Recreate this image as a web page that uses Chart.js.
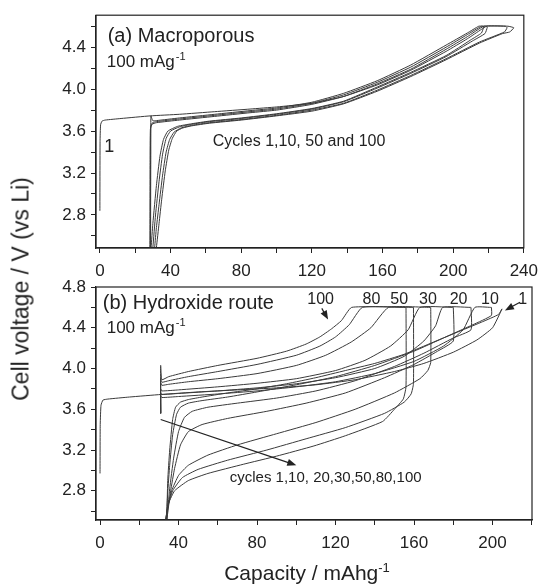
<!DOCTYPE html>
<html>
<head>
<meta charset="utf-8">
<script src="https://cdn.jsdelivr.net/npm/chart.js@4.4.0/dist/chart.umd.min.js"></script>
<style>
  body { margin: 0; background: #fff; }
  #wrap { position: relative; width: 546px; height: 586px; font-family: "Liberation Sans", Arial, sans-serif; color: #222; }
  canvas { position: absolute; left: 0; }
  #cA { top: 0; width: 546px; height: 282px; }
  #cB { top: 270px; width: 546px; height: 316px; }
  .ytitle { position: absolute; left: 21px; top: 289px; transform: translate(-50%, -50%) rotate(-90deg); white-space: nowrap; font-size: 23px; }
  .xtitle { position: absolute; left: 307px; top: 572px; transform: translate(-50%, -50%); white-space: nowrap; font-size: 21px; }
  sup { font-size: 13px; }
</style>
</head>
<body>
<div id="wrap">
  <canvas id="cA" width="546" height="282"></canvas>
  <canvas id="cB" width="546" height="316"></canvas>
  <div class="ytitle">Cell voltage / V (vs Li)</div>
  <div class="xtitle">Capacity / mAhg<sup>-1</sup></div>
</div>
<script>
const FONT = '"Liberation Sans", Arial, sans-serif';
const INK = "#222";
const LINE = "#3a3a3a";

// axis ticks
const aXTicks = [0, 20, 40, 60, 80, 100, 120, 140, 160, 180, 200, 220, 240];
const aXLabels = [0, 40, 80, 120, 160, 200, 240];
const aYTicks = [2.6, 2.8, 3.0, 3.2, 3.4, 3.6, 3.8, 4.0, 4.2, 4.4, 4.6];
const aYLabels = [2.8, 3.2, 3.6, 4.0, 4.4];
const bXTicks = [0, 20, 40, 60, 80, 100, 120, 140, 160, 180, 200, 220];
const bXLabels = [0, 40, 80, 120, 160, 200];
const bYTicks = [2.6, 2.8, 3.0, 3.2, 3.4, 3.6, 3.8, 4.0, 4.2, 4.4, 4.6, 4.8];
const bYLabels = [2.8, 3.2, 3.6, 4.0, 4.4, 4.8];

// (a) macroporous: charge, hold at 4.6 V, then discharge; capacity (mAh/g) and voltage (V)
const aCyc1X = [0, 0.1, 0.4, 1.2, 3, 12, 28.6, 45, 65, 85, 100, 120, 138, 157, 176, 196, 208, 216, 219, 231, 234.3,
  232, 228, 215, 196, 176, 157, 138, 120, 100, 80, 62, 52, 47, 43.5, 41, 39, 37, 35, 33.5, 32];
const aCyc1V = [2.84, 3.50, 3.66, 3.695, 3.705, 3.72, 3.745, 3.76, 3.785, 3.81, 3.83, 3.865, 3.93, 4.04, 4.18, 4.36, 4.48, 4.57, 4.6, 4.6, 4.585,
  4.545, 4.53, 4.44, 4.28, 4.12, 3.98, 3.86, 3.79, 3.745, 3.705, 3.675, 3.65, 3.63, 3.60, 3.53, 3.42, 3.22, 2.95, 2.72, 2.49];
const aCyc10X = [28.3, 28.4, 28.6, 29.5, 32, 45, 65, 85, 100, 120, 138, 157, 176, 196, 208, 217.5, 229.5, 230.5,
  229, 215, 196, 176, 157, 138, 120, 100, 80, 62, 52, 46, 42, 39.5, 37.5, 35.5, 33.5, 32, 31];
const aCyc10V = [2.49, 3.30, 3.62, 3.665, 3.68, 3.705, 3.74, 3.775, 3.80, 3.855, 3.93, 4.05, 4.19, 4.38, 4.50, 4.6, 4.6, 4.585,
  4.545, 4.45, 4.29, 4.13, 3.99, 3.865, 3.80, 3.75, 3.71, 3.68, 3.655, 3.63, 3.59, 3.52, 3.40, 3.18, 2.90, 2.68, 2.49];
const aCyc50X = [28.6, 28.7, 28.8, 29.8, 32, 45, 65, 85, 100, 120, 138, 157, 176, 196, 208, 216, 218.5, 219.3,
  218, 211, 196, 176, 157, 138, 120, 100, 80, 62, 52, 45, 40, 37.5, 35.5, 33.5, 31.5, 30];
const aCyc50V = [2.49, 3.35, 3.64, 3.68, 3.69, 3.715, 3.75, 3.785, 3.81, 3.865, 3.945, 4.065, 4.21, 4.40, 4.52, 4.6, 4.6, 4.59,
  4.53, 4.46, 4.31, 4.15, 4.01, 3.88, 3.81, 3.76, 3.72, 3.69, 3.665, 3.64, 3.60, 3.53, 3.38, 3.12, 2.80, 2.49];
const aCyc100X = [28.7, 28.8, 28.9, 29.9, 32, 45, 65, 85, 100, 120, 138, 157, 176, 196, 208, 214.5, 216.5, 217.2,
  216, 210, 196, 176, 157, 138, 120, 100, 80, 62, 52, 44, 38.5, 36, 34, 32, 30, 29];
const aCyc100V = [2.49, 3.40, 3.745, 3.70, 3.70, 3.725, 3.76, 3.795, 3.82, 3.875, 3.96, 4.08, 4.23, 4.42, 4.535, 4.6, 4.6, 4.59,
  4.535, 4.47, 4.32, 4.16, 4.02, 3.885, 3.815, 3.765, 3.725, 3.695, 3.67, 3.645, 3.60, 3.52, 3.36, 3.08, 2.72, 2.49];

// (b) hydroxide route
const bCyc1X = [0, 0.1, 0.5, 1.5, 4, 15, 31, 50, 70, 90, 110, 130, 150, 165, 180, 192, 200, 204.8,
  203, 195, 185, 170, 155, 140, 125, 110, 95, 80, 65, 52, 45, 41, 38.5, 37, 35.5, 34.5, 34];
const bCyc1V = [2.97, 3.45, 3.64, 3.69, 3.70, 3.72, 3.745, 3.77, 3.79, 3.81, 3.84, 3.89, 3.97, 4.05, 4.16, 4.28, 4.40, 4.585,
  4.53, 4.46, 4.38, 4.26, 4.14, 4.05, 3.98, 3.91, 3.85, 3.80, 3.76, 3.72, 3.695, 3.67, 3.62, 3.50, 3.20, 2.90, 2.51];
const bCyc10X = [30.9, 30.9, 31.5, 40, 60, 80, 100, 120, 140, 160, 175, 185, 191, 199, 199.4, 199.4,
  190, 175, 160, 140, 120, 100, 80, 65, 52, 45, 41, 39, 37, 35.5, 34.5, 33.8];
const bCyc10V = [3.56, 3.73, 3.715, 3.725, 3.75, 3.78, 3.82, 3.87, 3.95, 4.07, 4.22, 4.38, 4.6, 4.6, 4.6, 4.52,
  4.43, 4.30, 4.17, 4.03, 3.92, 3.84, 3.77, 3.72, 3.685, 3.66, 3.62, 3.55, 3.35, 3.05, 2.78, 2.51];
const bCyc20X = [30.9, 30.9, 31.5, 40, 60, 80, 100, 120, 140, 155, 165, 171, 174.6, 188.7, 189, 189,
  180, 165, 150, 130, 110, 90, 70, 55, 47, 43, 40, 37.5, 35.5, 34];
const bCyc20V = [3.56, 3.76, 3.745, 3.755, 3.78, 3.81, 3.85, 3.91, 4.00, 4.12, 4.27, 4.42, 4.6, 4.6, 4.6, 4.38,
  4.30, 4.15, 4.02, 3.88, 3.78, 3.71, 3.66, 3.62, 3.58, 3.52, 3.38, 3.12, 2.82, 2.51];
const bCyc30X = [30.9, 30.9, 31.5, 40, 60, 80, 100, 120, 135, 148, 157, 163, 179.7, 180, 180,
  172, 160, 145, 125, 105, 85, 65, 52, 45, 41, 38, 36, 34];
const bCyc30V = [3.56, 3.80, 3.78, 3.79, 3.82, 3.855, 3.90, 3.98, 4.08, 4.22, 4.38, 4.6, 4.6, 4.6, 4.27,
  4.17, 4.04, 3.91, 3.76, 3.66, 3.58, 3.51, 3.45, 3.38, 3.25, 3.02, 2.80, 2.51];
const bCyc50X = [30.9, 30.9, 31.5, 35, 45, 60, 80, 100, 115, 128, 138, 147, 168.2, 168.5, 168.5,
  167, 163, 150, 130, 110, 90, 70, 55, 45, 40, 36.5, 34.5, 33.5];
const bCyc50V = [3.56, 3.86, 3.835, 3.845, 3.87, 3.90, 3.95, 4.03, 4.13, 4.26, 4.40, 4.6, 4.6, 4.6, 4.06,
  3.98, 3.90, 3.76, 3.60, 3.47, 3.36, 3.25, 3.15, 3.05, 2.95, 2.80, 2.65, 2.51];
const bCyc80X = [30.9, 30.9, 31.5, 35, 45, 60, 80, 100, 112, 120, 127, 133.7, 159.4, 159.7, 159.7,
  158.5, 155, 145, 125, 105, 85, 65, 50, 42, 37, 34.5, 33.5];
const bCyc80V = [3.56, 3.90, 3.865, 3.88, 3.92, 3.97, 4.04, 4.13, 4.22, 4.31, 4.43, 4.6, 4.6, 4.6, 3.85,
  3.75, 3.67, 3.56, 3.42, 3.31, 3.20, 3.10, 3.01, 2.93, 2.80, 2.64, 2.51];
const bCyc100X = [30.9, 30.9, 31.5, 35, 45, 60, 80, 95, 105, 112, 118, 123, 128.2, 155.6, 155.9, 155.9,
  154.5, 150, 144, 125, 109, 90, 73, 55, 45, 38, 35, 33.3];
const bCyc100V = [3.56, 4.03, 3.89, 3.92, 3.97, 4.03, 4.10, 4.17, 4.24, 4.31, 4.39, 4.47, 4.6, 4.6, 4.6, 3.82,
  3.70, 3.60, 3.48, 3.34, 3.24, 3.14, 3.06, 2.97, 2.90, 2.80, 2.68, 2.51];

const aCurves = [[aCyc1X, aCyc1V], [aCyc10X, aCyc10V], [aCyc50X, aCyc50V], [aCyc100X, aCyc100V]];
const bCurves = [[bCyc1X, bCyc1V], [bCyc10X, bCyc10V], [bCyc20X, bCyc20V], [bCyc30X, bCyc30V],
  [bCyc50X, bCyc50V], [bCyc80X, bCyc80V], [bCyc100X, bCyc100V]];

function toDatasets(curves) {
  return curves.map(([xs, vs]) => ({
    data: xs.map((x, i) => ({ x: x, y: vs[i] })),
    showLine: true,
    pointRadius: 0,
    borderWidth: 1,
    borderColor: LINE,
    tension: 0.15,
  }));
}

// frame round the plot area
const boxPlugin = {
  id: "box",
  afterDraw(chart) {
    const { ctx, chartArea: a } = chart;
    ctx.save();
    ctx.strokeStyle = INK;
    ctx.lineWidth = 1.2;
    ctx.strokeRect(a.left, a.top, a.right - a.left, a.bottom - a.top);
    ctx.restore();
  },
};

// text and arrows placed in data units
const notesPlugin = {
  id: "notes",
  afterDatasetsDraw(chart, args, opts) {
    const ctx = chart.ctx, sx = chart.scales.x, sy = chart.scales.y;
    ctx.save();
    ctx.fillStyle = INK;
    ctx.strokeStyle = INK;
    (opts.texts || []).forEach((t) => {
      const px = sx.getPixelForValue(t.x), py = sy.getPixelForValue(t.y);
      ctx.font = t.size + "px " + FONT;
      ctx.textAlign = t.align || "left";
      ctx.textBaseline = "alphabetic";
      ctx.fillText(t.text, px, py);
      if (t.sup) {
        const w = ctx.measureText(t.text).width;
        ctx.textAlign = "left";
        ctx.font = Math.round(t.size * 0.65) + "px " + FONT;
        ctx.fillText(t.sup, px + w + 1, py - t.size * 0.42);
      }
    });
    (opts.arrows || []).forEach((a) => {
      const x1 = sx.getPixelForValue(a.from[0]), y1 = sy.getPixelForValue(a.from[1]);
      const x2 = sx.getPixelForValue(a.to[0]), y2 = sy.getPixelForValue(a.to[1]);
      const ang = Math.atan2(y2 - y1, x2 - x1);
      ctx.lineWidth = 1.2;
      ctx.beginPath();
      ctx.moveTo(x1, y1);
      ctx.lineTo(x2 - 6 * Math.cos(ang), y2 - 6 * Math.sin(ang));
      ctx.stroke();
      ctx.beginPath();
      ctx.moveTo(x2, y2);
      ctx.lineTo(x2 - 9 * Math.cos(ang) + 3.5 * Math.sin(ang), y2 - 9 * Math.sin(ang) - 3.5 * Math.cos(ang));
      ctx.lineTo(x2 - 9 * Math.cos(ang) - 3.5 * Math.sin(ang), y2 - 9 * Math.sin(ang) + 3.5 * Math.cos(ang));
      ctx.closePath();
      ctx.fill();
    });
    ctx.restore();
  },
};

function axisX(min, max, ticks, labels, height) {
  return {
    type: "linear",
    min: min,
    max: max,
    afterBuildTicks: (s) => { s.ticks = ticks.map((v) => ({ value: v })); },
    afterFit: (s) => { s.height = height; },
    ticks: {
      autoSkip: false,
      maxRotation: 0,
      padding: 8,
      color: INK,
      font: { family: FONT, size: 17 },
      callback: (v) => (labels.includes(v) ? String(v) : ""),
    },
    grid: { drawOnChartArea: false, tickLength: 5, tickColor: INK, tickWidth: 1 },
    border: { color: INK, width: 1.2 },
  };
}

function axisY(min, max, ticks, labels) {
  return {
    type: "linear",
    min: min,
    max: max,
    afterBuildTicks: (s) => { s.ticks = ticks.map((v) => ({ value: v })); },
    afterFit: (s) => { s.width = 96; },
    ticks: {
      autoSkip: false,
      padding: 5,
      color: INK,
      font: { family: FONT, size: 17 },
      callback: (v) => (labels.some((l) => Math.abs(l - v) < 1e-6) ? v.toFixed(1) : ""),
    },
    grid: { drawOnChartArea: false, tickLength: 5, tickColor: INK, tickWidth: 1 },
    border: { color: INK, width: 1.2 },
  };
}

function makeChart(id, curves, xs, ys, pad, notes) {
  return new Chart(document.getElementById(id), {
    type: "scatter",
    data: { datasets: toDatasets(curves) },
    options: {
      responsive: false,
      animation: false,
      layout: { padding: pad },
      plugins: { legend: { display: false }, tooltip: { enabled: false }, notes: notes },
      scales: { x: xs, y: ys },
    },
    plugins: [boxPlugin, notesPlugin],
  });
}

makeChart("cA", aCurves,
  axisX(-2.2, 240, aXTicks, aXLabels, 34),
  axisY(2.485, 4.705, aYTicks, aYLabels),
  { top: 14, right: 14, left: 0, bottom: 0 },
  {
    texts: [
      { text: "(a) Macroporous", x: 4.4, y: 4.445, size: 20 },
      { text: "100 mAg", sup: "-1", x: 3.9, y: 4.21, size: 17 },
      { text: "1", x: 2.5, y: 3.40, size: 18 },
      { text: "Cycles 1,10, 50 and 100", x: 63.9, y: 3.46, size: 16 },
    ],
    arrows: [],
  });

makeChart("cB", bCurves,
  axisX(-2.05, 220.1, bXTicks, bXLabels, 66),
  axisY(2.513, 4.8, bYTicks, bYLabels),
  { top: 17, right: 14, left: 0, bottom: 0 },
  {
    texts: [
      { text: "(b) Hydroxide route", x: 1.4, y: 4.58, size: 20 },
      { text: "100 mAg", sup: "-1", x: 3.4, y: 4.346, size: 17 },
      { text: "100", x: 112.4, y: 4.63, size: 16, align: "center" },
      { text: "80", x: 138.3, y: 4.63, size: 16, align: "center" },
      { text: "50", x: 152.4, y: 4.63, size: 16, align: "center" },
      { text: "30", x: 167.1, y: 4.63, size: 16, align: "center" },
      { text: "20", x: 182.7, y: 4.63, size: 16, align: "center" },
      { text: "10", x: 198.7, y: 4.63, size: 16, align: "center" },
      { text: "1", x: 215.3, y: 4.63, size: 16, align: "center" },
      { text: "cycles 1,10, 20,30,50,80,100", x: 66.1, y: 2.888, size: 15 },
    ],
    arrows: [
      { from: [30.9, 3.50], to: [100, 3.05] },
      { from: [113, 4.59], to: [116.2, 4.48] },
      { from: [214, 4.65], to: [206.3, 4.57] },
    ],
  });
</script>
</body>
</html>
